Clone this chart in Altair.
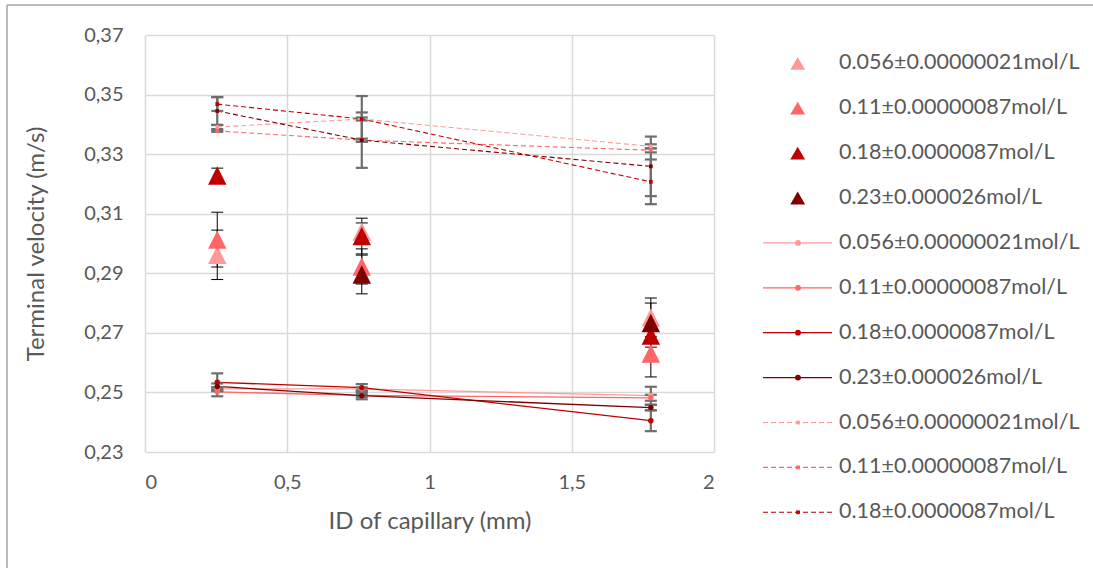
import altair as alt
import pandas as pd

# Capillary inner diameters (mm) and the four concentrations
ids_mm = [0.254, 0.762, 1.778]
conc_labels = [
    "0.056±0.00000021mol/L",
    "0.11±0.00000087mol/L",
    "0.18±0.0000087mol/L",
    "0.23±0.000026mol/L",
]
conc_colors = ["#FF9999", "#FF6666", "#C00000", "#800000"]

# Triangle series: terminal velocity (m/s) and its uncertainty
tri_vel = [
    [0.2962, 0.3040, 0.2752],
    [0.3013, 0.2923, 0.2631],
    [0.3228, 0.3025, 0.2691],
    [None, 0.2896, 0.2733],
]
tri_err = [
    [0.0083, 0.0029, 0.0065],
    [0.0092, 0.0059, 0.0079],
    [0.0025, 0.0060, 0.0039],
    [None, 0.0065, 0.0067],
]

# Solid-line series
sol_vel = [
    [0.2512, 0.2512, 0.2489],
    [0.2502, 0.2490, 0.2482],
    [0.2534, 0.2516, 0.2405],
    [0.2520, 0.2489, 0.2449],
]
sol_err = [
    [0.0005, 0.0005, 0.0030],
    [0.0015, 0.0005, 0.0010],
    [0.0030, 0.0012, 0.0035],
    [0.0010, 0.0012, 0.0009],
]

# Dashed-line series
das_vel = [
    [0.3391, 0.3418, 0.3326],
    [0.3378, 0.3347, 0.3313],
    [0.3468, 0.3418, 0.3207],
    [0.3445, 0.3347, 0.3259],
]
das_err = [
    [0.0007, 0.0005, 0.0007],
    [0.0003, 0.0005, 0.0007],
    [0.0023, 0.0077, 0.0075],
    [0.0047, 0.0093, 0.0100],
]

# Legend entries (the dashed 0.23 series has no entry)
legend_kinds = ["tri"] * 4 + ["solid"] * 4 + ["dash"] * 3
legend_series = conc_labels + conc_labels + conc_labels[:3]

TEXT = "#595959"
FONT = "Lato"


def to_long(values, errs):
    rows = []
    for s, (vals, es) in enumerate(zip(values, errs)):
        for x, v, e in zip(ids_mm, vals, es):
            if v is None:
                continue
            rows.append(dict(series=conc_labels[s], order=s, id=x, v=v, lo=v - e, hi=v + e))
    return pd.DataFrame(rows)


tri_df = to_long(tri_vel, tri_err)
sol_df = to_long(sol_vel, sol_err)
das_df = to_long(das_vel, das_err)

color = alt.Color("series:N", scale=alt.Scale(domain=conc_labels, range=conc_colors), legend=None)

x_axis = alt.Axis(
    values=[0, 0.5, 1, 1.5, 2],
    labelExpr="replace(toString(datum.value), '.', ',')",
    title="ID of capillary (mm)",
    labelPadding=20,
    titlePadding=17,
)
y_axis = alt.Axis(
    values=[0.23, 0.25, 0.27, 0.29, 0.31, 0.33, 0.35, 0.37],
    labelExpr="replace(format(datum.value, '.2f'), '.', ',')",
    title="Terminal velocity (m/s)",
    labelPadding=22,
    titlePadding=35,
)
x_scale = alt.Scale(domain=[0, 2], nice=False, zero=False)
y_scale = alt.Scale(domain=[0.23, 0.37], nice=False, zero=False)


def X(field="id"):
    return alt.X(f"{field}:Q", scale=x_scale, axis=x_axis)


def Y(field):
    return alt.Y(f"{field}:Q", scale=y_scale, axis=y_axis)


def error_bars(df, stroke, width, cap):
    bar = alt.Chart(df).mark_rule(color=stroke, strokeWidth=width).encode(
        x=X(), y=Y("lo"), y2="hi"
    )
    caps = [
        alt.Chart(df).mark_rule(color=stroke, strokeWidth=width, xOffset=-cap, x2Offset=cap).encode(
            x=X(), x2="id", y=Y(f)
        )
        for f in ("lo", "hi")
    ]
    return [bar] + caps


# Triangles with thin black error bars
tri_layers = error_bars(tri_df, "#000000", 1, 6) + [
    alt.Chart(tri_df).mark_point(
        shape="M0,-1L1,1L-1,1Z", filled=True, opacity=1, size=340
    ).encode(x=X(), y=Y("v"), color=color, order="order:Q")
]

# Solid lines with markers and grey error bars
sol_layers = [
    alt.Chart(sol_df).mark_line(strokeWidth=1.3).encode(x=X(), y=Y("v"), color=color, detail="series:N"),
] + error_bars(sol_df, "#6E6E6E", 2.2, 6) + [
    alt.Chart(sol_df).mark_point(shape="circle", filled=True, opacity=1, size=30).encode(
        x=X(), y=Y("v"), color=color, order="order:Q"
    )
]

# Dashed lines with small markers and grey error bars
das_layers = [
    alt.Chart(das_df).mark_line(strokeWidth=1.1, strokeDash=[5, 3]).encode(
        x=X(), y=Y("v"), color=color, detail="series:N"
    ),
] + error_bars(das_df, "#6E6E6E", 2.2, 6) + [
    alt.Chart(das_df).mark_point(shape="square", filled=True, opacity=1, size=14).encode(
        x=X(), y=Y("v"), color=color, order="order:Q"
    )
]

plot = alt.layer(*(tri_layers + sol_layers + das_layers))

# Legend drawn to the right of the plot area
leg_df = pd.DataFrame(
    {
        "row": list(range(len(legend_kinds))),
        "kind": legend_kinds,
        "series": legend_series,
        "label": legend_series,
    }
)
leg_y = alt.Y("row:Q", scale=alt.Scale(domain=[0, 10], range=[28.3, 477.3]), axis=None)
leg_base = alt.Chart(leg_df)
legend = alt.layer(
    leg_base.transform_filter("datum.kind == 'tri'").mark_point(
        shape="triangle-up", filled=True, opacity=1, size=220
    ).encode(x=alt.value(652.7), y=leg_y, color=color),
    leg_base.transform_filter("datum.kind == 'solid'").mark_rule(strokeWidth=1.3).encode(
        x=alt.value(618), x2=alt.value(687), y=leg_y, color=color
    ),
    leg_base.transform_filter("datum.kind == 'solid'").mark_point(
        shape="circle", filled=True, opacity=1, size=34
    ).encode(x=alt.value(653), y=leg_y, color=color),
    leg_base.transform_filter("datum.kind == 'dash'").mark_rule(strokeWidth=1.1, strokeDash=[5, 3]).encode(
        x=alt.value(618), x2=alt.value(687), y=leg_y, color=color
    ),
    leg_base.transform_filter("datum.kind == 'dash'").mark_point(
        shape="square", filled=True, opacity=1, size=14
    ).encode(x=alt.value(653), y=leg_y, color=color),
    leg_base.mark_text(align="left", baseline="middle", font=FONT, fontSize=21.5, color=TEXT).encode(
        x=alt.value(694), y=leg_y, text="label:N"
    ),
)

# Chart-area frame
frame_df = pd.DataFrame({"a": [0]})
frame = alt.layer(
    alt.Chart(frame_df).mark_rule(color="#A6A6A6", strokeWidth=1.5).encode(
        x=alt.value(-138), y=alt.value(-30), y2=alt.value(540)
    ),
    alt.Chart(frame_df).mark_rule(color="#A6A6A6", strokeWidth=1.5).encode(
        x=alt.value(-138), x2=alt.value(960), y=alt.value(-30)
    ),
)

chart = (
    alt.layer(plot, legend, frame)
    .resolve_scale(y="independent")
    .properties(
        width=569,
        height=417,
        padding={"left": 145, "top": 35, "right": 379, "bottom": 116},
        autosize=alt.AutoSizeParams(type="none"),
        background="white",
    )
    .configure_view(stroke=None)
    .configure_axis(
        labelFont=FONT,
        labelFontSize=20,
        labelColor=TEXT,
        titleFont=FONT,
        titleFontSize=24,
        titleFontWeight="normal",
        titleColor=TEXT,
        gridColor="#D9D9D9",
        gridWidth=1.5,
        domain=False,
        ticks=False,
    )
)

chart.save("out.html", embed_options={"renderer": "svg", "actions": False})
